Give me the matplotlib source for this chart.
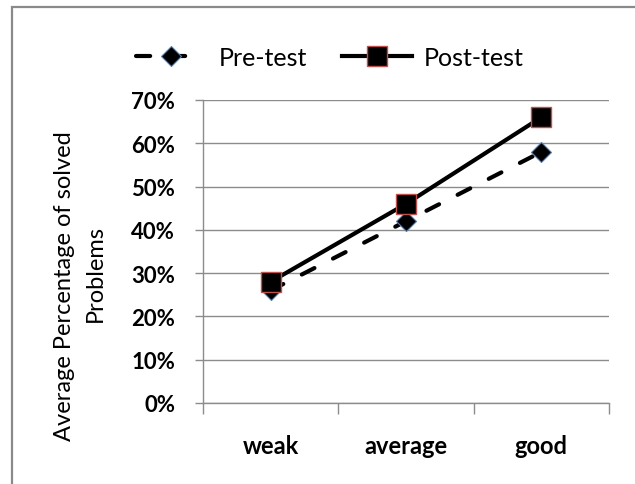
import matplotlib
matplotlib.use("Agg")
import matplotlib.pyplot as plt
from matplotlib.patches import Rectangle
from matplotlib.ticker import PercentFormatter
import numpy as np

categories = ["weak", "average", "good"]
pre_test = [0.26, 0.42, 0.58]
post_test = [0.28, 0.46, 0.66]
y_ticks = [0.0, 0.1, 0.2, 0.3, 0.4, 0.5, 0.6, 0.7]

plt.rcParams['font.family'] = ['Lato', 'DejaVu Sans']

W, H = 635, 485
fig = plt.figure(figsize=(W / 100, H / 100), dpi=100)
fig.patch.set_facecolor('white')

# outer chart border (cut off at right/bottom)
fig.patches.append(Rectangle((12 / W, -0.1), 1.2, 1 - 8 / H + 0.1,
                             transform=fig.transFigure, fill=False,
                             edgecolor='#8a8a8a', linewidth=1.6))

ax = fig.add_axes([203 / W, 1 - 404 / H, (609 - 203) / W, (404 - 101) / H])
x = np.arange(len(categories))

ax.plot(x, pre_test, color='black', linewidth=3, linestyle=(0, (3.4, 5.0)),
        dash_capstyle='round',
        marker='D', markersize=10, markerfacecolor='black',
        markeredgecolor='#4f81bd', markeredgewidth=0.8, label='Pre-test', zorder=3)
ax.plot(x, post_test, color='black', linewidth=3, linestyle='-',
        marker='s', markersize=14, markerfacecolor='black',
        markeredgecolor='#c0504d', markeredgewidth=1.0, label='Post-test', zorder=4)

ax.set_xlim(-0.5, 2.5)
ax.set_ylim(0, 0.7)
ax.set_yticks(y_ticks)
ax.yaxis.set_major_formatter(PercentFormatter(1.0, decimals=0))
ax.grid(axis='y', color='#8c8c8c', linewidth=1.0)
ax.set_axisbelow(True)

ax.set_xticks([-0.5, 0.5, 1.5, 2.5])
ax.set_xticklabels([])
ax.set_xticks(x, minor=True)
ax.set_xticklabels(categories, minor=True)
ax.tick_params(axis='x', which='major', length=8, direction='out', color='#8c8c8c', width=1)
ax.tick_params(axis='x', which='minor', length=0, pad=22, labelsize=17)
ax.tick_params(axis='y', length=6, direction='out', color='#8c8c8c', width=1, pad=14, labelsize=16)
for lab in ax.get_xticklabels(minor=True) + ax.get_yticklabels():
    lab.set_fontweight('bold')

for s in ['top', 'right']:
    ax.spines[s].set_visible(False)
for s in ['left', 'bottom']:
    ax.spines[s].set_color('#8c8c8c')
    ax.spines[s].set_linewidth(1.0)

fig.text(65 / W, 1 - 286 / H, "Average Percentage of solved",
         rotation=90, ha='center', va='center', fontsize=17)
fig.text(95 / W, 1 - 274 / H, "Problems",
         rotation=90, ha='center', va='center', fontsize=17)

leg = fig.legend(loc='center', bbox_to_anchor=(330 / W, 1 - 58 / H), ncol=2,
                 frameon=False, fontsize=18, handlelength=2.8,
                 handletextpad=0.5, columnspacing=1.4)

fig.savefig('out.png', dpi=100, facecolor='white')
